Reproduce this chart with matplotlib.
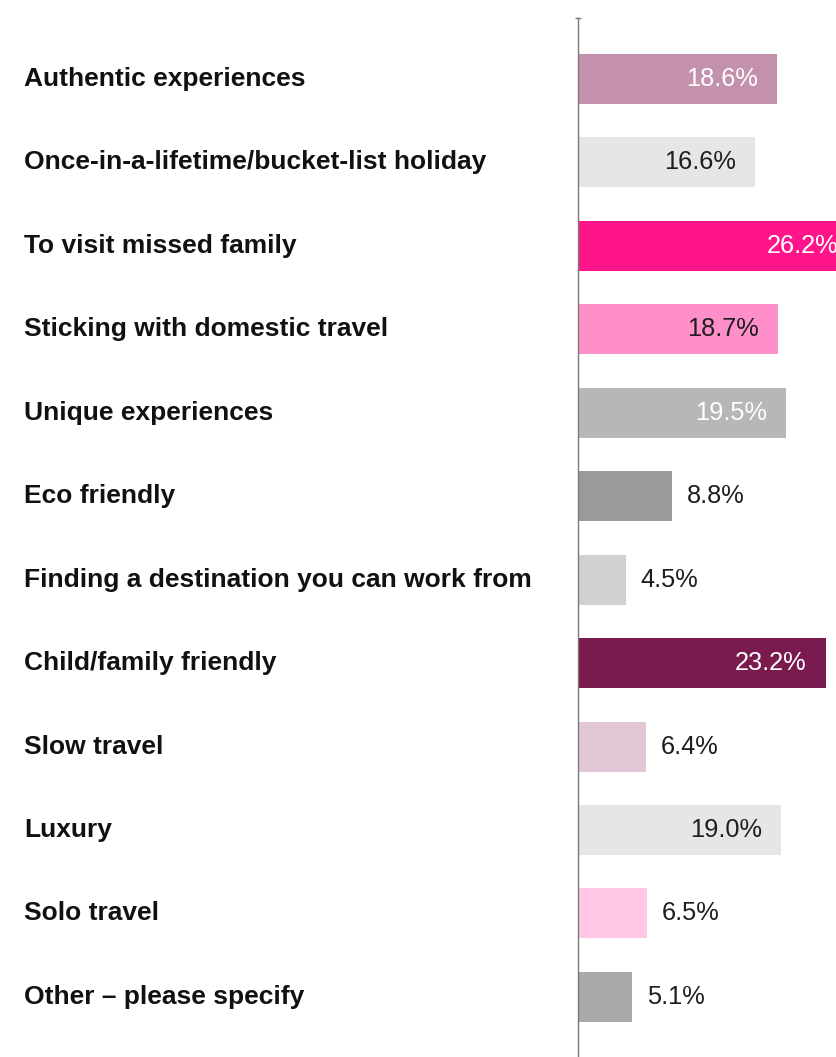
import matplotlib
matplotlib.use("Agg")
import matplotlib.pyplot as plt
import matplotlib.transforms as mtransforms

categories = [
    "Authentic experiences",
    "Once-in-a-lifetime/bucket-list holiday",
    "To visit missed family",
    "Sticking with domestic travel",
    "Unique experiences",
    "Eco friendly",
    "Finding a destination you can work from",
    "Child/family friendly",
    "Slow travel",
    "Luxury",
    "Solo travel",
    "Other \u2013 please specify",
]
values = [18.6, 16.6, 26.2, 18.7, 19.5, 8.8, 4.5, 23.2, 6.4, 19.0, 6.5, 5.1]
colors = [
    "#C491AC", "#E6E6E6", "#FF1489", "#FF8FC8", "#B7B7B7", "#9A9A9A",
    "#D1D1D1", "#7A1B50", "#E1C7D5", "#E6E6E6", "#FFC7E3", "#A9A9A9",
]
label_colors = [
    "white", "#1e1e1e", "white", "#1e1e1e", "white", "#1e1e1e",
    "#1e1e1e", "white", "#1e1e1e", "#1e1e1e", "#1e1e1e", "#1e1e1e",
]

W, H, DPI = 836, 1057, 100
fig = plt.figure(figsize=(W / DPI, H / DPI), dpi=DPI)
fig.patch.set_facecolor("white")

px_per_unit = 10.68
ax_left = 578
ax_top = 18
ax_w = W - ax_left
ax = fig.add_axes([ax_left / W, 0, ax_w / W, (H - ax_top) / H])

n = len(categories)
ypos = list(range(n))
ax.barh(ypos, values, height=0.6, color=colors, edgecolor="none", zorder=2)
ax.set_xlim(0, ax_w / px_per_unit)
ax.set_ylim(n - 1 + 0.72, -0.73)

for side in ("top", "right", "bottom"):
    ax.spines[side].set_visible(False)
ax.spines["left"].set_color("#7a7a7a")
ax.spines["left"].set_linewidth(1.0)
ax.set_xticks([])
ax.set_yticks([])
ax.plot([0], [1], marker="_", ms=4, mew=1.0, color="#7a7a7a",
        transform=ax.transAxes, clip_on=False)

# category names on the left
trans = mtransforms.blended_transform_factory(fig.transFigure, ax.transData)
for y, cat in zip(ypos, categories):
    ax.text(24 / W, y, cat, transform=trans, ha="left", va="center",
            fontsize=19, fontweight="bold", family=["Liberation Sans", "DejaVu Sans"],
            color="#111111", clip_on=False)

# value labels, inside long bars and beside short ones
for y, v, c in zip(ypos, values, label_colors):
    txt = f"{v:.1f}%"
    inside = v >= 10
    ax.annotate(txt, (v, y), xytext=(-13.7 if inside else 10.4, 0),
                textcoords="offset points",
                ha="right" if inside else "left", va="center",
                fontsize=18.3, color=c,
                family=["Liberation Sans", "DejaVu Sans"], fontweight="normal",
                annotation_clip=False)

fig.savefig("out.png", dpi=DPI, facecolor="white")
